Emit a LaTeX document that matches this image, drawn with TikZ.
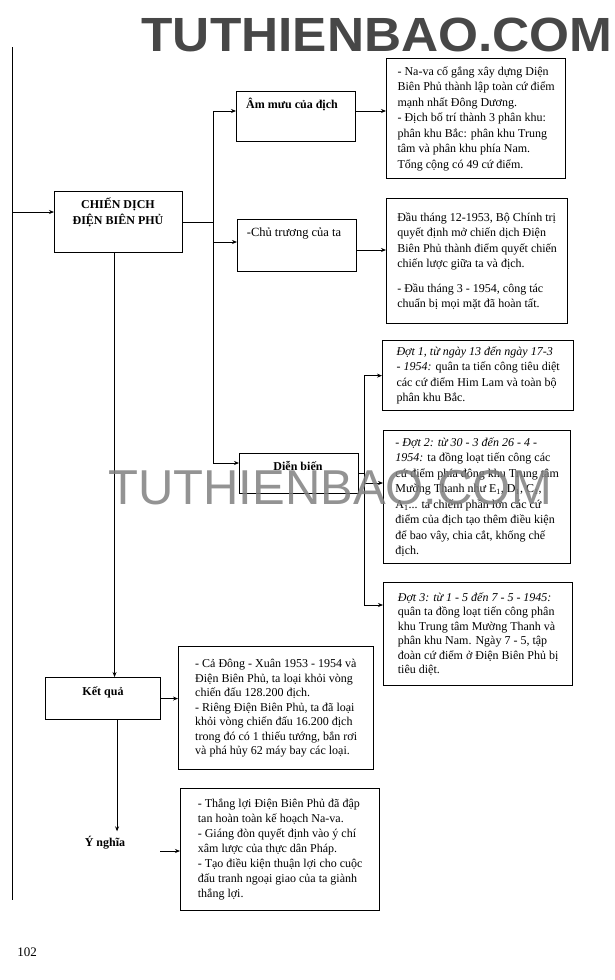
\documentclass[tikz,border=0pt]{standalone}
\usepackage{fontspec}
\setmainfont{Liberation Serif}
\newfontfamily\wmfont{Liberation Sans}
\usetikzlibrary{arrows.meta,positioning,calc}

\begin{document}
\begin{tikzpicture}[x=1pt,y=-1pt,
  link/.style={line width=0.8pt},
  arr/.style={link,-{Stealth[length=5pt,width=4pt]}},
  headbox/.style={draw,line width=1.1pt,anchor=north west,inner sep=0pt},
  headtext/.style={font=\fontsize{12}{16}\selectfont\bfseries,align=center,inner sep=1pt},
  notebox/.style={draw,line width=1.3pt,anchor=north west,align=left,inner sep=4pt,
    font=\fontsize{12}{15.5}\selectfont}]
  \useasboundingbox (0,0) rectangle (615,980);
  % Watermark on top
  \node[font={\wmfont\bfseries\fontsize{48}{50}\selectfont},text=black!72,xscale=1.07] (wmTop) at (377,35) {TUTHIENBAO.COM};
  % Main campaign box
  \node[headbox,minimum width=128pt,minimum height=61pt] (main) at (54,191) {};
  \node[headtext] (mainT) at (118,212) {CHIẾN DỊCH\\ĐIỆN BIÊN PHỦ};
  % Three headings
  \node[headbox,minimum width=119pt,minimum height=50pt] (amuu) at (236,91) {};
  \node[headtext] (amuuT) at (292,104) {Âm mưu của địch};
  \node[headbox,minimum width=119pt,minimum height=52pt] (chutruong) at (237,219) {};
  \node[headtext,font=\fontsize{12.5}{16}\selectfont] (chutruongT) at (294,234) {-Chủ trương của ta};
  \node[headbox,minimum width=119pt,minimum height=40pt] (dienbien) at (239,453) {};
  \node[headtext] (dienbienT) at (298,466) {Diễn biến};
  % Result and meaning
  \node[headbox,minimum width=115pt,minimum height=42pt] (ketqua) at (45,677) {};
  \node[headtext] (ketquaT) at (103,692) {Kết quả};
  \node[headtext] (ynghia) at (105,843) {Ý nghĩa};
  % Notes
  \node[notebox,minimum width=179pt,minimum height=120pt] (amuuR) at (386,58)
    {- Na-va cố gắng xây dựng Diện\\Biên Phủ thành lập toàn cứ điểm\\mạnh nhất Đông Dương.\\
     - Địch bố trí thành 3 phân khu:\\phân khu Bắc: phân khu Trung\\tâm và phân khu phía Nam.\\
     Tổng cộng có 49 cứ điểm.};
  \node[notebox,minimum width=181pt,minimum height=125pt] (chutruongR) at (386,198)
    {Đầu tháng 12-1953, Bộ Chính trị\\quyết định mở chiến dịch Điện\\Biên Phủ thành điểm quyết chiến\\
     chiến lược giữa ta và địch.\\[9pt]- Đầu tháng 3 - 1954, công tác\\chuẩn bị mọi mặt đã hoàn tất.};
  \node[notebox,minimum width=191pt,minimum height=70pt] (dot1) at (382,340)
    {\textit{Đợt 1, từ ngày 13 đến ngày 17-3}\\\textit{- 1954:} quân ta tiến công tiêu diệt\\
     các cứ điểm Him Lam và toàn bộ\\phân khu Bắc.};
  \node[notebox,minimum width=187pt,minimum height=133pt] (dot2) at (383,430)
    {\textit{- Đợt 2: từ 30 - 3 đến 26 - 4 -}\\\textit{1954:} ta đồng loạt tiến công các\\
     cứ điểm phía đông khu Trung tâm\\Mường Thanh như E\textsubscript{1}, D\textsubscript{1}, C\textsubscript{1},\\
     A\textsubscript{1}... ta chiếm phần lớn các cứ\\điểm của địch tạo thêm điều kiện\\
     để bao vây, chia cắt, khống chế\\địch.};
  \node[notebox,minimum width=189pt,minimum height=103pt,font=\fontsize{12}{14.5}\selectfont] (dot3) at (383,582)
    {\textit{Đợt 3: từ 1 - 5 đến 7 - 5 - 1945:}\\quân ta đồng loạt tiến công phân\\
     khu Trung tâm Mường Thanh và\\phân khu Nam. Ngày 7 - 5, tập\\
     đoàn cứ điểm ở Điện Biên Phủ bị\\tiêu diệt.};
  \node[notebox,minimum width=195pt,minimum height=123pt,font=\fontsize{12}{14.5}\selectfont] (ketquaR) at (178,646)
    {- Cả Đông - Xuân 1953 - 1954 và\\Điện Biên Phủ, ta loại khỏi vòng\\chiến đấu 128.200 địch.\\
     - Riêng Điện Biên Phủ, ta đã loại\\khỏi vòng chiến đấu 16.200 địch\\
     trong đó có 1 thiếu tướng, bắn rơi\\và phá hủy 62 máy bay các loại.};
  \node[notebox,minimum width=199pt,minimum height=122pt,font=\fontsize{12}{15}\selectfont] (ynghiaR) at (180,788)
    {- Thắng lợi Điện Biên Phủ đã đập\\tan hoàn toàn kế hoạch Na-va.\\
     - Giáng đòn quyết định vào ý chí\\xâm lược của thực dân Pháp.\\
     - Tạo điều kiện thuận lợi cho cuộc\\đấu tranh ngoại giao của ta giành\\thắng lợi.};
  % Left rail
  \coordinate (railTop) at (12,47);
  \coordinate (railBot) at (12,900);
  \coordinate (railOut) at (12,212);
  \draw[link] (railTop) -- (railBot);
  \draw[arr] (railOut) -- (railOut -| main.west);
  % Fork to the headings
  \coordinate (fork) at ([xshift=30pt]main.east);
  \coordinate (amuuIn) at ([yshift=-20pt]amuu.north west);
  \coordinate (chuIn) at ([yshift=-23pt]chutruong.north west);
  \coordinate (dbIn) at ([yshift=-10pt]dienbien.north west);
  \draw[link] (main.east) -- (fork);
  \draw[link] (fork |- amuuIn) -- (fork |- dbIn);
  \draw[arr] (fork |- amuuIn) -- (amuuIn);
  \draw[arr] (fork |- chuIn) -- (chuIn);
  \draw[arr] (fork |- dbIn) -- (dbIn);
  % Headings to notes
  \draw[arr] (amuuIn -| amuu.east) -- (amuuIn -| amuuR.west);
  \coordinate (chuOut) at ([yshift=-31pt]chutruong.north east);
  \draw[arr] (chuOut) -- (chuOut -| chutruongR.west);
  \coordinate (dbOut) at ([yshift=-20pt]dienbien.north east);
  \coordinate (fork2) at ([xshift=5pt]dbOut);
  \coordinate (dot2In) at ([yshift=-53pt]dot2.north west);
  \coordinate (dot3In) at ([yshift=-23pt]dot3.north west);
  \draw[link] (dbOut) -- (fork2);
  \draw[link] (fork2 |- dot1.west) -- (fork2 |- dot3In);
  \draw[arr] (fork2 |- dot1.west) -- (dot1.west);
  \draw[arr] (fork2 |- dot2In) -- (dot2In);
  \draw[arr] (fork2 |- dot3In) -- (dot3In);
  % Down to result and meaning
  \coordinate (kqDown) at ([xshift=-4pt]main.south);
  \draw[arr] (kqDown) -- (kqDown |- ketqua.north);
  \draw[arr] (ketqua.east) -- (ketqua.east -| ketquaR.west);
  \coordinate (ynDown) at ([xshift=14pt]ketqua.south);
  \draw[arr] (ynDown) -- ([yshift=4pt]ynDown |- ynghia.north);
  \coordinate (ynOut) at (160,851);
  \draw[arr] (ynOut) -- (ynOut -| ynghiaR.west);
  % Page number and watermark in the middle
  \node[font=\fontsize{13}{15}\selectfont] (page) at (27,952) {102};
  \node[font={\wmfont\fontsize{49}{50}\selectfont},text=black!50,opacity=0.85] (wmMid) at (330,488) {TUTHIENBAO.COM};
\end{tikzpicture}
\end{document}
